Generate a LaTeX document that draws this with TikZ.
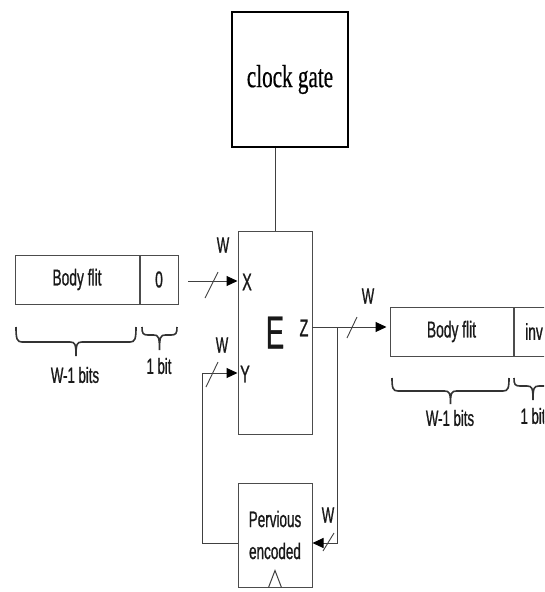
\documentclass[tikz,border=0pt]{standalone}
\usepackage{fontspec}
\newfontfamily\sfn[FakeStretch=0.6,FakeBold=0.8]{Liberation Sans}
\newfontfamily\sern[FakeStretch=0.66,FakeBold=0.5]{Liberation Serif}
\usetikzlibrary{arrows.meta}
\begin{document}
\begin{tikzpicture}[x=1pt,y=-1pt,
  wire/.style={draw=black!75, line width=1pt},
  box/.style={draw=black!70, line width=1pt, inner sep=0pt, font=\sfn\fontsize{23}{26}\selectfont, text=black!90},
  arr/.style={wire, -{Triangle[length=11pt,width=10pt,color=black]}},
  slashmark/.style={draw=black!75, line width=0.9pt},
  lab/.style={font=\sfn\fontsize{22}{24}\selectfont, text=black!90, inner sep=0pt},
  port/.style={font=\sfn\fontsize{24}{24}\selectfont, text=black!90, inner sep=0pt},
  bracemark/.style={draw=black!80, line width=1.6pt},
]
% brace: #1 left x, #2 right x, #3 top y, #4 bar depth, #5 tip depth
\newcommand\flitbrace[5]{%
  \draw[bracemark] ({#1},{#3}) .. controls ({#1},{#3+#4*0.8}) and ({#1+1},{#3+#4}) .. ({#1+6},{#3+#4})
    -- ({(#1+#2)/2-6},{#3+#4}) .. controls ({(#1+#2)/2-1},{#3+#4}) and ({(#1+#2)/2},{#3+#4+2}) .. ({(#1+#2)/2},{#3+#5})
    .. controls ({(#1+#2)/2},{#3+#4+2}) and ({(#1+#2)/2+1},{#3+#4}) .. ({(#1+#2)/2+6},{#3+#4})
    -- ({#2-6},{#3+#4}) .. controls ({#2-1},{#3+#4}) and ({#2},{#3+#4*0.8}) .. ({#2},{#3});}
\useasboundingbox (0,0) rectangle (544,592);
\clip (0,0) rectangle (544,592);

% clock gate
\node[draw=black, line width=1.6pt, minimum width=116pt, minimum height=135pt,
      font=\sern\fontsize{32}{34}\selectfont] (cg) at (290,79.5) {clock gate};

% encoder
\node[box, minimum width=74pt, minimum height=203pt, font=\sfn\fontsize{46}{46}\selectfont] (E) at (275,332.5) {E};
\node[port] (xl) at (247,282) {X};
\node[port] (yl) at (245,374) {Y};
\node[port] (zl) at (304,328) {Z};

% previous encoded register
\node[box, minimum width=74pt, minimum height=104pt, align=center,
      font=\sfn\fontsize{22.5}{32}\selectfont] (pe) at (275,535) {Pervious\\encoded};
\draw[wire] ([xshift=-6.5pt]pe.south) -- ++(6.5,-17) -- ([xshift=6.5pt]pe.south);

% left flit
\node[box, minimum width=124pt, minimum height=49pt] (lb) at (77,279.5) {Body flit};
\node[box, minimum width=38pt, minimum height=49pt, anchor=west] (l0) at (lb.east) {0};
\flitbrace{16}{136}{327}{15}{29}
\flitbrace{142}{177}{327}{8}{23}
\node[lab] (lw1) at (75,375) {W-1 bits};
\node[lab] (l1b) at (159,366) {1 bit};

% right flit
\node[box, minimum width=123pt, minimum height=49pt] (rb) at (451.5,331.5) {Body flit};
\node[box, minimum width=40pt, minimum height=49pt, anchor=west] (rinv) at (rb.east) {inv};
\flitbrace{392}{509}{378}{13}{26}
\flitbrace{514}{552}{378}{8}{22}
\node[lab] (rw1) at (450,418) {W-1 bits};
\node[lab] (r1b) at (533,416) {1 bit};

% connectors
\draw[wire] (E.north) -- (E.north |- cg.south);

\coordinate (xs) at (188,281);
\draw[arr] (xs) -- (xs -| E.west);
\draw[slashmark] (205,298) -- (218,272);
\node[lab] (wx) at (223,245) {W};

\coordinate (fb) at (202,373);
\draw[arr] (fb) -- (fb -| E.west);
\draw[wire] (fb) |- ([yshift=-8pt]pe.west);
\draw[slashmark] (206,387) -- (218,362);
\node[lab] (wy) at (222,345) {W};

\coordinate (zo) at (312,327);
\coordinate (tap) at (337,327);
\draw[arr, shorten >=3pt] (zo) -- (zo -| rb.west);
\draw[slashmark] (347,338) -- (357,317);
\node[lab] (wz) at (368,296) {W};

\draw[arr] (tap) |- ([yshift=-8pt]pe.east);
\draw[slashmark] (323,551) -- (334,533);
\node[lab] (wp) at (328,515) {W};
\end{tikzpicture}
\end{document}
